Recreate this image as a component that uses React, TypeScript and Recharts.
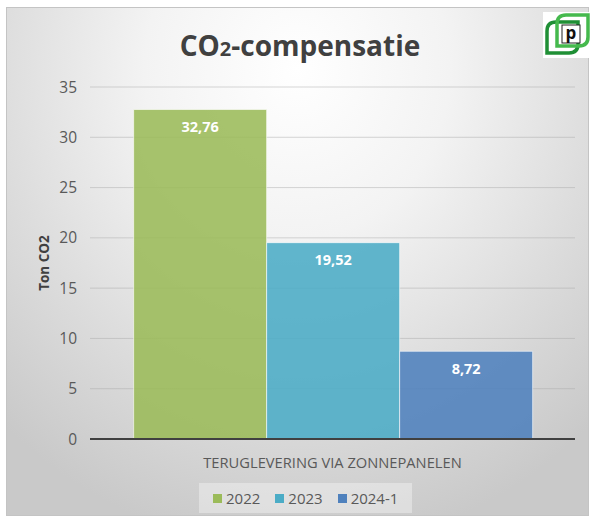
// CO2-compensatie: teruglevering via zonnepanelen per jaar
import { BarChart, Bar, XAxis, YAxis, CartesianGrid, LabelList } from 'recharts';

const categories = ['TERUGLEVERING VIA ZONNEPANELEN'];
const seriesNames = ['2022', '2023', '2024-1'];
const values2022 = [32.76];
const values2023 = [19.52];
const values2024 = [8.72];
const yTicks = [0, 5, 10, 15, 20, 25, 30, 35];

const COLORS: Record<string, string> = {
  '2022': '#9bbb59',
  '2023': '#4bacc6',
  '2024-1': '#4f81bd',
};

const FONT = '"Open Sans", "Noto Sans", sans-serif';

const data = categories.map((name, i) => ({
  name,
  '2022': values2022[i],
  '2023': values2023[i],
  '2024-1': values2024[i],
}));

const fmt = (v: number) => v.toFixed(2).replace('.', ',');

function LegendBox() {
  return (
    <div
      style={{
        position: 'absolute',
        left: 199,
        top: 483,
        height: 30,
        boxSizing: 'border-box',
        display: 'flex',
        gap: 15,
        alignItems: 'center',
        background: 'rgba(255,255,255,0.35)',
        padding: '0 14px',
        fontFamily: FONT,
        fontSize: 15,
        color: '#595959',
      }}
    >
      {seriesNames.map((s) => (
        <span key={s} style={{ display: 'inline-flex', alignItems: 'center', gap: 4 }}>
          <span style={{ width: 9, height: 9, background: COLORS[s], display: 'inline-block' }} />
          {s}
        </span>
      ))}
    </div>
  );
}

// leaf shape: square with rounded top-left and bottom-right corners
const leaf = (x: number, y: number, s: number, r: number) =>
  `M${x + r},${y} H${x + s} V${y + s - r} Q${x + s},${y + s} ${x + s - r},${y + s} H${x} V${y + r} Q${x},${y} ${x + r},${y} Z`;

function Logo() {
  return (
    <svg width={51} height={46} style={{ position: 'absolute', left: 543, top: 12 }}>
      <rect x={0} y={0} width={51} height={46} fill="#ffffff" />
      <path d={leaf(4, 10, 31, 9)} fill="none" stroke="#1f8f35" strokeWidth={3.5} />
      <path d={leaf(14, 3, 31, 9)} fill="none" stroke="#45b94d" strokeWidth={3.5} />
      <rect x={19} y={13} width={18} height={18} fill="#ffffff" stroke="#222" strokeWidth={1} />
      <text x={28} y={27} textAnchor="middle" fontFamily={FONT} fontWeight={700} fontSize={17} fill="#111">
        p
      </text>
    </svg>
  );
}

export default function App() {
  return (
    <div style={{ position: 'absolute', left: 0, top: 0, width: 594, height: 520, background: '#fff' }}>
      <div
        style={{
          position: 'absolute',
          left: 6,
          top: 7,
          width: 581,
          height: 507,
          border: '1px solid #c4c4c4',
          background:
            'radial-gradient(ellipse 75% 95% at 50% 12%, #ffffff 0%, #f3f3f3 35%, #dcdcdc 70%, #c9c9c9 100%)',
        }}
      />
      <div
        style={{
          position: 'absolute',
          left: 0,
          top: 26,
          width: 600,
          textAlign: 'center',
          fontFamily: FONT,
          fontWeight: 700,
          fontSize: 28,
          color: '#404040',
        }}
      >
        CO<span style={{ fontSize: 20 }}>2</span>-compensatie
      </div>
      <Logo />
      <div style={{ position: 'absolute', left: 0, top: 0 }}>
        <BarChart
          width={594}
          height={520}
          data={data}
          margin={{ top: 87, right: 19, bottom: 0, left: 30 }}
          barCategoryGap="9%"
          barGap={0}
        >
          <XAxis
            dataKey="name"
            axisLine={{ stroke: '#404040', strokeWidth: 2 }}
            tickLine={false}
            tick={{ fill: '#595959', fontSize: 14.7, fontFamily: FONT }}
            tickMargin={13}
            height={81}
          />
          <YAxis
            width={60}
            domain={[0, 35]}
            ticks={yTicks}
            axisLine={false}
            tickLine={false}
            tickSize={0}
            tickMargin={13}
            tick={{ fill: '#595959', fontSize: 15.5, fontFamily: FONT }}
            label={{
              value: 'Ton CO2',
              angle: -90,
              position: 'insideLeft',
              offset: 14,
              style: { fill: '#404040', fontSize: 13.5, fontWeight: 700, fontFamily: FONT, textAnchor: 'middle' },
            }}
          />
          {seriesNames.map((s) => (
            <Bar
              key={s}
              dataKey={s}
              fill={COLORS[s]}
              fillOpacity={0.88}
              stroke="#ffffff"
              strokeOpacity={0.6}
              strokeWidth={1}
              isAnimationActive={false}
            >
              <LabelList
                dataKey={s}
                position="insideTop"
                offset={12}
                formatter={(v: number) => fmt(v)}
                style={{ fill: '#ffffff', fontSize: 14.5, fontWeight: 700, fontFamily: FONT }}
              />
            </Bar>
          ))}
          <CartesianGrid vertical={false} stroke="#a6a6a6" strokeOpacity={0.45} />
        </BarChart>
      </div>
      <LegendBox />
    </div>
  );
}
